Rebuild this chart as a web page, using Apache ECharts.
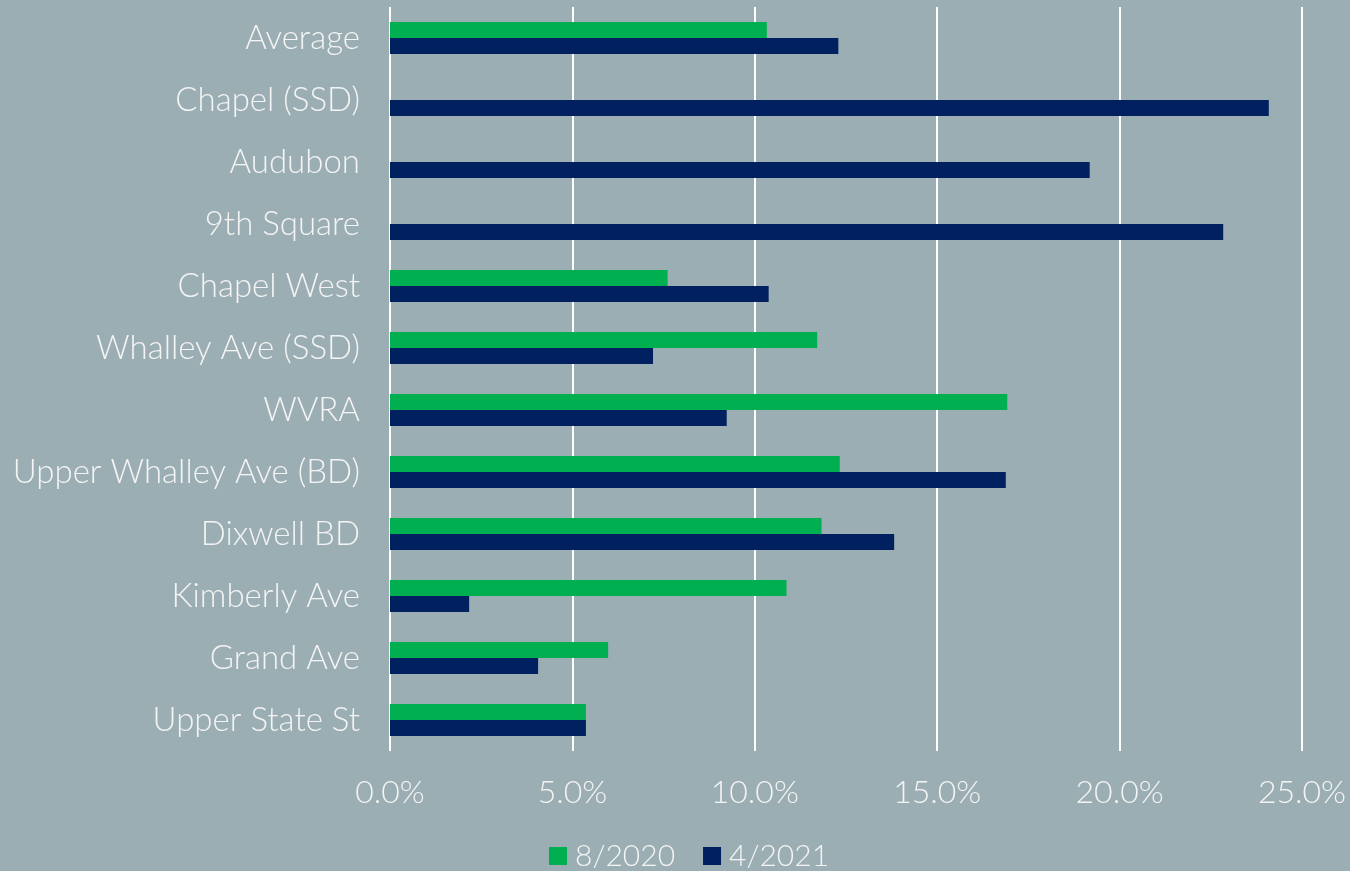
<!DOCTYPE html>
<html>
<head>
<meta charset="utf-8">
<script src="https://cdn.jsdelivr.net/npm/echarts@6/dist/echarts.min.js"></script>
<style>
  html, body { margin: 0; padding: 0; background: #9BAEB4; }
  #chart { width: 1350px; height: 871px; }
</style>
</head>
<body>
<div id="chart"></div>
<script>
// categories, top to bottom
var categories = [
  "Average", "Chapel (SSD)", "Audubon", "9th Square", "Chapel West",
  "Whalley Ave (SSD)", "WVRA", "Upper Whalley Ave (BD)", "Dixwell BD",
  "Kimberly Ave", "Grand Ave", "Upper State St"
];
// values in percent
var aug2020 = [10.33, null, null, null, 7.61, 11.71, 16.92, 12.33, 11.83, 10.87, 5.98, 5.37];
var apr2021 = [12.29, 24.09, 19.18, 22.84, 10.38, 7.21, 9.23, 16.88, 13.82, 2.17, 4.06, 5.37];
var seriesNames = ["8/2020", "4/2021"];

var textColor = "#F4F4F4";
var fontFamily = "Lato, 'Open Sans', sans-serif";

var chart = echarts.init(document.getElementById("chart"));
chart.setOption({
  backgroundColor: "#9BAEB4",
  animation: false,
  color: ["#00B050", "#002060"],
  grid: { left: 390, right: 48, top: 7, bottom: 120 },
  legend: {
    data: seriesNames,
    left: 544,
    top: 836,
    itemWidth: 18,
    itemHeight: 18,
    itemGap: 28,
    icon: "rect",
    textStyle: { color: textColor, fontSize: 30, fontFamily: fontFamily, fontWeight: 300, padding: [0, 0, 0, 3] }
  },
  xAxis: {
    type: "value",
    min: 0,
    max: 25,
    interval: 5,
    axisLine: { show: false },
    axisTick: { show: false },
    splitLine: { lineStyle: { color: "#FFFFFF", width: 2 } },
    axisLabel: {
      color: textColor,
      fontSize: 32,
      fontFamily: fontFamily,
      fontWeight: 300,
      margin: 26,
      formatter: function (v) { return v.toFixed(1) + "%"; }
    }
  },
  yAxis: {
    type: "category",
    inverse: true,
    data: categories,
    axisLine: { show: false },
    axisTick: { show: false },
    splitLine: { show: false },
    axisLabel: {
      color: textColor,
      fontSize: 33,
      fontFamily: fontFamily,
      fontWeight: 300,
      margin: 30
    }
  },
  series: [
    { name: seriesNames[0], type: "bar", data: aug2020, barWidth: 16, barGap: "0%" },
    { name: seriesNames[1], type: "bar", data: apr2021, barWidth: 16, barGap: "0%" }
  ]
});
</script>
</body>
</html>
